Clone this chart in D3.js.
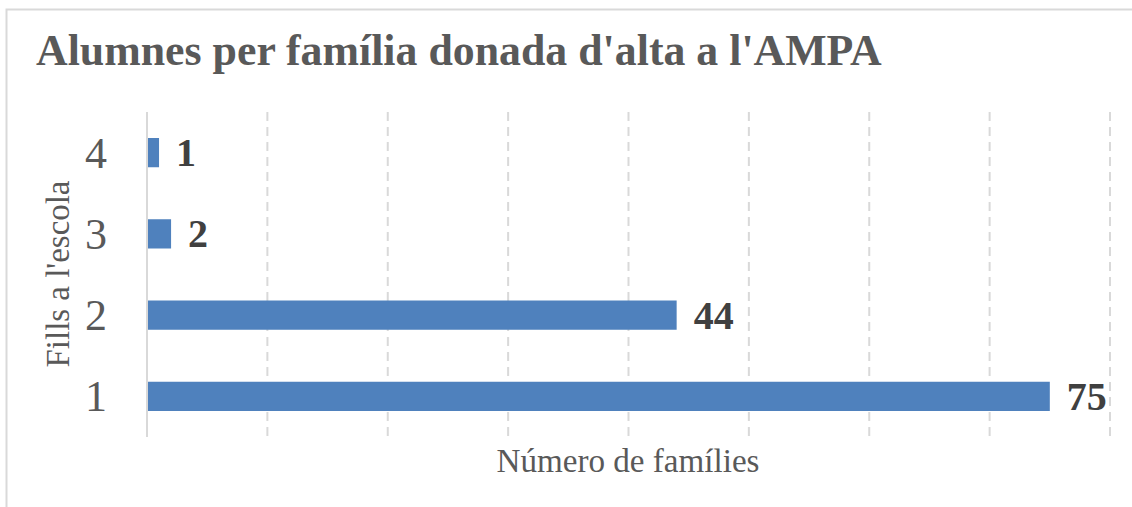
<!DOCTYPE html>
<html>
<head>
<meta charset="utf-8">
<script src="https://cdn.jsdelivr.net/npm/d3@7"></script>
<style>
  body { margin: 0; background: #fff; }
  text { font-family: "Liberation Serif", "DejaVu Serif", serif; }
</style>
</head>
<body>
<svg width="1132" height="507"></svg>
<script>
const categories = ["1", "2", "3", "4"]
const values = [75, 44, 2, 1]
const xTicks = [0, 10, 20, 30, 40, 50, 60, 70, 80]

const svg = d3.select("svg")

// shrink/grow a text so it spans the wanted width
function fitWidth(sel, target) {
    const size = parseFloat(sel.style("font-size"))
    const w = sel.node().getComputedTextLength()
    sel.style("font-size", (size * target / w) + "px")
}

// chart frame (cropped on the right and bottom)
svg.append("rect")
    .attr("x", 6.5)
    .attr("y", 9.5)
    .attr("width", 1200)
    .attr("height", 600)
    .style("fill", "white")
    .style("stroke", "#d9d9d9")
    .style("stroke-width", 2)

const xScale = d3.scaleLinear().domain([0, 80]).range([147, 1110])
const yScale = d3.scaleBand().domain(categories).range([437, 112]).paddingInner(0.64).paddingOuter(0.32)

// vertical dashed gridlines
svg.selectAll("line.grid")
    .data(xTicks.slice(1))
    .enter()
    .append("line")
    .attr("class", "grid")
    .attr("x1", d => xScale(d))
    .attr("x2", d => xScale(d))
    .attr("y1", 112)
    .attr("y2", 437)
    .style("stroke", "#d9d9d9")
    .style("stroke-width", 2)
    .style("stroke-dasharray", "9,6")

// category axis
const yAxis = d3.axisLeft(yScale).tickSize(0).tickPadding(40)
const yAxisG = svg.append("g")
    .attr("transform", `translate(${xScale(0)},0)`)
    .call(yAxis)
yAxisG.select(".domain")
    .attr("d", `M0,112V437`)
    .style("stroke", "#d9d9d9")
    .style("stroke-width", 2)
yAxisG.selectAll("text")
    .style("font-family", "'Liberation Serif', serif")
    .style("font-size", "44px")
    .style("fill", "#595959")
    .attr("dy", "0.34em")

// bars
svg.selectAll("rect.bar")
    .data(values)
    .enter()
    .append("rect")
    .attr("class", "bar")
    .attr("x", xScale(0) + 1)
    .attr("y", (d, i) => yScale(categories[i]))
    .attr("width", d => xScale(d) - xScale(0) - 1)
    .attr("height", yScale.bandwidth())
    .style("fill", "#4f81bd")

// value labels
svg.selectAll("text.value")
    .data(values)
    .enter()
    .append("text")
    .attr("class", "value")
    .attr("x", d => xScale(d) + 17)
    .attr("y", (d, i) => yScale(categories[i]) + yScale.bandwidth() / 2)
    .attr("dy", "0.34em")
    .style("font-size", "40px")
    .style("font-weight", "bold")
    .style("fill", "#404040")
    .text(d => d)

// title
const title = svg.append("text")
    .attr("x", 36)
    .attr("y", 65)
    .style("font-size", "42px")
    .style("font-weight", "bold")
    .style("fill", "#595959")
    .text("Alumnes per família donada d'alta a l'AMPA")
fitWidth(title, 846)

// x axis title
const xTitle = svg.append("text")
    .attr("x", 628)
    .attr("y", 472)
    .style("text-anchor", "middle")
    .style("font-size", "26px")
    .style("fill", "#595959")
    .text("Número de famílies")
fitWidth(xTitle, 263)

// y axis title
const yTitle = svg.append("text")
    .attr("transform", "translate(69,274) rotate(-90)")
    .style("text-anchor", "middle")
    .style("font-size", "26px")
    .style("fill", "#595959")
    .text("Fills a l'escola")
fitWidth(yTitle, 187)
</script>
</body>
</html>
